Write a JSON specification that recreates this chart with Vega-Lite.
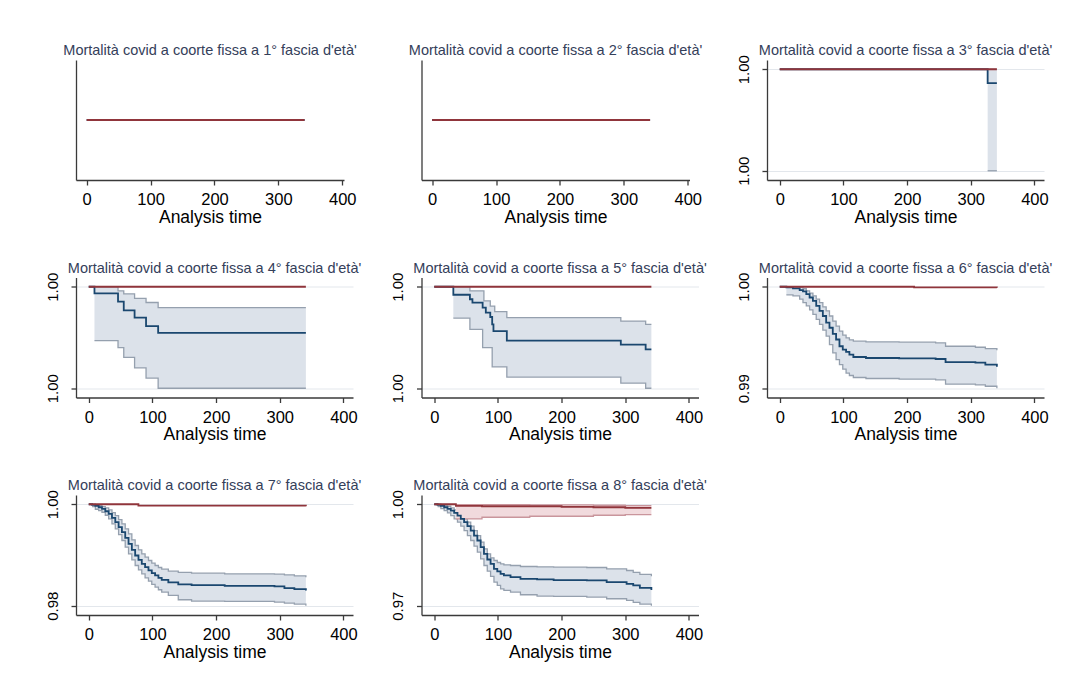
{
"$schema": "https://vega.github.io/schema/vega-lite/v6.json",
"background": "white",
"padding": {"left": 44, "top": 42, "right": 5, "bottom": 5},
"columns": 3,
"spacing": {"row": 97.5, "column": 68.5},
"bounds": "flush",
"data": {"values": [
{"p":1,"g":"b","t":0,"s":1},{"p":1,"g":"b","t":341,"s":1},{"p":1,"g":"r","t":0,"s":1},{"p":1,"g":"r","t":341,"s":1},
{"p":2,"g":"b","t":0,"s":1},{"p":2,"g":"b","t":341,"s":1},{"p":2,"g":"r","t":0,"s":1},{"p":2,"g":"r","t":341,"s":1},
{"p":3,"g":"b","t":0,"s":1},{"p":3,"g":"b","t":326.5,"s":0.999863,"hi":1,"lo":0.999},{"p":3,"g":"b","t":341,"s":0.999863,"hi":1,"lo":0.999},
{"p":3,"g":"r","t":0,"s":1},{"p":3,"g":"r","t":341,"s":1},
{"p":4,"g":"b","t":0,"s":1},
{"p":4,"g":"b","t":9,"s":0.999934,"hi":1,"lo":0.99947},
{"p":4,"g":"b","t":46,"s":0.999854,"hi":0.99996,"lo":0.9994},
{"p":4,"g":"b","t":55,"s":0.999768,"hi":0.99993,"lo":0.999305},
{"p":4,"g":"b","t":72,"s":0.999695,"hi":0.999885,"lo":0.9992},
{"p":4,"g":"b","t":90,"s":0.999613,"hi":0.999845,"lo":0.9991},
{"p":4,"g":"b","t":109,"s":0.999546,"hi":0.999795,"lo":0.999},
{"p":4,"g":"b","t":341,"s":0.999546,"hi":0.999795,"lo":0.999},
{"p":4,"g":"r","t":0,"s":1},{"p":4,"g":"r","t":341,"s":1},
{"p":5,"g":"b","t":0,"s":1},
{"p":5,"g":"b","t":30,"s":0.999921,"hi":1,"lo":0.99969},
{"p":5,"g":"b","t":56,"s":0.999877,"hi":0.99996,"lo":0.99958},
{"p":5,"g":"b","t":60,"s":0.999844,"hi":0.99996,"lo":0.99958},
{"p":5,"g":"b","t":76,"s":0.999795,"hi":0.99996,"lo":0.9994},
{"p":5,"g":"b","t":78,"s":0.999795,"hi":0.99986,"lo":0.9994},
{"p":5,"g":"b","t":81,"s":0.999745,"hi":0.99986,"lo":0.9994},
{"p":5,"g":"b","t":88,"s":0.999702,"hi":0.99981,"lo":0.9994},
{"p":5,"g":"b","t":91,"s":0.999629,"hi":0.99981,"lo":0.99921},
{"p":5,"g":"b","t":93,"s":0.999563,"hi":0.99981,"lo":0.99921},
{"p":5,"g":"b","t":95,"s":0.999563,"hi":0.999755,"lo":0.99921},
{"p":5,"g":"b","t":114,"s":0.99947,"hi":0.999695,"lo":0.99911},
{"p":5,"g":"b","t":293,"s":0.99943,"hi":0.999662,"lo":0.99905},
{"p":5,"g":"b","t":332,"s":0.999384,"hi":0.99963,"lo":0.999},
{"p":5,"g":"b","t":341,"s":0.999384,"hi":0.99963,"lo":0.999},
{"p":5,"g":"r","t":0,"s":1},{"p":5,"g":"r","t":341,"s":1},
{"p":6,"g":"b","t":0,"s":1},
{"p":6,"g":"b","t":10.4,"s":0.999934,"hi":1,"lo":0.999205},
{"p":6,"g":"b","t":20.8,"s":0.999834,"hi":1,"lo":0.999106},
{"p":6,"g":"b","t":31.3,"s":0.999669,"hi":0.999934,"lo":0.998775},
{"p":6,"g":"b","t":36.5,"s":0.999536,"hi":0.999801,"lo":0.998444},
{"p":6,"g":"b","t":41.7,"s":0.999272,"hi":0.999603,"lo":0.998113},
{"p":6,"g":"b","t":46.9,"s":0.99894,"hi":0.999371,"lo":0.997715},
{"p":6,"g":"b","t":52.1,"s":0.998609,"hi":0.999106,"lo":0.997285},
{"p":6,"g":"b","t":57.3,"s":0.998113,"hi":0.998775,"lo":0.996788},
{"p":6,"g":"b","t":62.5,"s":0.997616,"hi":0.998444,"lo":0.996291},
{"p":6,"g":"b","t":67.7,"s":0.997119,"hi":0.998013,"lo":0.995728},
{"p":6,"g":"b","t":72.9,"s":0.996457,"hi":0.997616,"lo":0.995133},
{"p":6,"g":"b","t":78.1,"s":0.995961,"hi":0.997119,"lo":0.994305},
{"p":6,"g":"b","t":83.3,"s":0.995364,"hi":0.996623,"lo":0.993477},
{"p":6,"g":"b","t":88.5,"s":0.994801,"hi":0.996126,"lo":0.992815},
{"p":6,"g":"b","t":93.8,"s":0.994139,"hi":0.995629,"lo":0.992318},
{"p":6,"g":"b","t":99,"s":0.993808,"hi":0.995232,"lo":0.991888},
{"p":6,"g":"b","t":104.2,"s":0.993577,"hi":0.994967,"lo":0.991491},
{"p":6,"g":"b","t":109.4,"s":0.993312,"hi":0.994768,"lo":0.991258},
{"p":6,"g":"b","t":115.6,"s":0.99308,"hi":0.994636,"lo":0.99106},
{"p":6,"g":"b","t":135.4,"s":0.992981,"hi":0.99457,"lo":0.990961},
{"p":6,"g":"b","t":187.5,"s":0.992948,"hi":0.994537,"lo":0.990894},
{"p":6,"g":"b","t":244.8,"s":0.992881,"hi":0.994471,"lo":0.990828},
{"p":6,"g":"b","t":260.4,"s":0.992583,"hi":0.99414,"lo":0.990398},
{"p":6,"g":"b","t":307.3,"s":0.992517,"hi":0.99404,"lo":0.990331},
{"p":6,"g":"b","t":322.9,"s":0.992318,"hi":0.993908,"lo":0.990199},
{"p":6,"g":"b","t":341,"s":0.99212,"hi":0.993742,"lo":0.99},
{"p":6,"g":"r","t":0,"s":1},{"p":6,"g":"r","t":211,"s":0.99994},{"p":6,"g":"r","t":341,"s":0.9999},
{"p":7,"g":"b","t":0,"s":1},
{"p":7,"g":"b","t":5.2,"s":0.999869,"hi":1,"lo":0.999541},
{"p":7,"g":"b","t":10.4,"s":0.999672,"hi":0.999869,"lo":0.999016},
{"p":7,"g":"b","t":15.6,"s":0.99941,"hi":0.999738,"lo":0.998754},
{"p":7,"g":"b","t":20.8,"s":0.999082,"hi":0.999541,"lo":0.998426},
{"p":7,"g":"b","t":26,"s":0.998623,"hi":0.999279,"lo":0.997836},
{"p":7,"g":"b","t":31.3,"s":0.998098,"hi":0.998885,"lo":0.997115},
{"p":7,"g":"b","t":36.5,"s":0.997312,"hi":0.998361,"lo":0.996131},
{"p":7,"g":"b","t":41.7,"s":0.996459,"hi":0.997771,"lo":0.995148},
{"p":7,"g":"b","t":46.9,"s":0.995476,"hi":0.996984,"lo":0.994033},
{"p":7,"g":"b","t":52.1,"s":0.994492,"hi":0.996131,"lo":0.992853},
{"p":7,"g":"b","t":57.3,"s":0.993377,"hi":0.995148,"lo":0.991541},
{"p":7,"g":"b","t":62.5,"s":0.992197,"hi":0.994164,"lo":0.99023},
{"p":7,"g":"b","t":67.7,"s":0.991017,"hi":0.992984,"lo":0.98905},
{"p":7,"g":"b","t":72.9,"s":0.989902,"hi":0.991869,"lo":0.987935},
{"p":7,"g":"b","t":78.1,"s":0.98905,"hi":0.991017,"lo":0.987083},
{"p":7,"g":"b","t":83.3,"s":0.988263,"hi":0.99023,"lo":0.986296},
{"p":7,"g":"b","t":88.5,"s":0.987607,"hi":0.989574,"lo":0.985509},
{"p":7,"g":"b","t":93.8,"s":0.986952,"hi":0.988919,"lo":0.984853},
{"p":7,"g":"b","t":99,"s":0.986427,"hi":0.988394,"lo":0.984198},
{"p":7,"g":"b","t":104.2,"s":0.985968,"hi":0.987935,"lo":0.983673},
{"p":7,"g":"b","t":109.4,"s":0.985509,"hi":0.987541,"lo":0.983149},
{"p":7,"g":"b","t":114.6,"s":0.985115,"hi":0.987214,"lo":0.982689},
{"p":7,"g":"b","t":125,"s":0.984591,"hi":0.98682,"lo":0.982034},
{"p":7,"g":"b","t":140.6,"s":0.984198,"hi":0.986558,"lo":0.981181},
{"p":7,"g":"b","t":161.5,"s":0.984067,"hi":0.986427,"lo":0.980919},
{"p":7,"g":"b","t":213.5,"s":0.983935,"hi":0.986296,"lo":0.980853},
{"p":7,"g":"b","t":291.7,"s":0.983804,"hi":0.98623,"lo":0.980722},
{"p":7,"g":"b","t":307.3,"s":0.983476,"hi":0.986099,"lo":0.980525},
{"p":7,"g":"b","t":322.9,"s":0.98328,"hi":0.985902,"lo":0.980328},
{"p":7,"g":"b","t":341,"s":0.983017,"hi":0.98564,"lo":0.98},
{"p":7,"g":"r","t":0,"s":1},{"p":7,"g":"r","t":78,"s":0.99974},{"p":7,"g":"r","t":341,"s":0.99961},
{"p":8,"g":"b","t":0,"s":1},
{"p":8,"g":"b","t":5.2,"s":0.999803,"hi":1,"lo":0.999311},
{"p":8,"g":"b","t":10.4,"s":0.999508,"hi":0.999902,"lo":0.998721},
{"p":8,"g":"b","t":15.6,"s":0.999115,"hi":0.999607,"lo":0.998131},
{"p":8,"g":"b","t":20.8,"s":0.998623,"hi":0.99941,"lo":0.997443},
{"p":8,"g":"b","t":26,"s":0.998131,"hi":0.998918,"lo":0.996656},
{"p":8,"g":"b","t":31.3,"s":0.997443,"hi":0.998328,"lo":0.995672},
{"p":8,"g":"b","t":36.5,"s":0.996656,"hi":0.997639,"lo":0.994689},
{"p":8,"g":"b","t":41.7,"s":0.995672,"hi":0.996656,"lo":0.993508},
{"p":8,"g":"b","t":46.9,"s":0.994689,"hi":0.995672,"lo":0.99223},
{"p":8,"g":"b","t":52.1,"s":0.993508,"hi":0.994689,"lo":0.990754},
{"p":8,"g":"b","t":57.3,"s":0.99223,"hi":0.993508,"lo":0.989279},
{"p":8,"g":"b","t":62.5,"s":0.990754,"hi":0.99223,"lo":0.987607},
{"p":8,"g":"b","t":67.7,"s":0.989279,"hi":0.990754,"lo":0.985836},
{"p":8,"g":"b","t":72.9,"s":0.987311,"hi":0.988787,"lo":0.983869},
{"p":8,"g":"b","t":78.1,"s":0.985344,"hi":0.98682,"lo":0.981902},
{"p":8,"g":"b","t":83.3,"s":0.983672,"hi":0.985344,"lo":0.980229},
{"p":8,"g":"b","t":88.5,"s":0.982393,"hi":0.984164,"lo":0.978656},
{"p":8,"g":"b","t":93.8,"s":0.980918,"hi":0.983377,"lo":0.976984},
{"p":8,"g":"b","t":99,"s":0.980131,"hi":0.982787,"lo":0.976},
{"p":8,"g":"b","t":104.2,"s":0.979443,"hi":0.982393,"lo":0.975016},
{"p":8,"g":"b","t":109.4,"s":0.978951,"hi":0.982098,"lo":0.974525},
{"p":8,"g":"b","t":119.8,"s":0.978459,"hi":0.981902,"lo":0.974033},
{"p":8,"g":"b","t":135.4,"s":0.977967,"hi":0.981607,"lo":0.973246},
{"p":8,"g":"b","t":161.5,"s":0.977771,"hi":0.981508,"lo":0.972852},
{"p":8,"g":"b","t":187.5,"s":0.977574,"hi":0.98141,"lo":0.972754},
{"p":8,"g":"b","t":239.6,"s":0.977475,"hi":0.981311,"lo":0.972557},
{"p":8,"g":"b","t":270.8,"s":0.976984,"hi":0.980918,"lo":0.972066},
{"p":8,"g":"b","t":302.1,"s":0.976492,"hi":0.980426,"lo":0.971574},
{"p":8,"g":"b","t":312.5,"s":0.976,"hi":0.979836,"lo":0.970984},
{"p":8,"g":"b","t":322.9,"s":0.975311,"hi":0.979246,"lo":0.970492},
{"p":8,"g":"b","t":341,"s":0.974623,"hi":0.978754,"lo":0.97},
{"p":8,"g":"r","t":0,"s":1},
{"p":8,"g":"r","t":34,"s":0.999508,"hi":0.999902,"lo":0.995672},
{"p":8,"g":"r","t":75,"s":0.99941,"hi":0.999902,"lo":0.996164},
{"p":8,"g":"r","t":150,"s":0.99941,"hi":0.999803,"lo":0.996459},
{"p":8,"g":"r","t":200,"s":0.999213,"hi":0.999803,"lo":0.996459},
{"p":8,"g":"r","t":250,"s":0.999115,"hi":0.99971,"lo":0.996754},
{"p":8,"g":"r","t":300,"s":0.998918,"hi":0.999607,"lo":0.996951},
{"p":8,"g":"r","t":341,"s":0.998918,"hi":0.999607,"lo":0.996951}
]},
"concat": [
{"width": 268, "height": 120, "title": {"text": "Mortalità covid a coorte fissa a 1° fascia d'età'", "offset": 2},
 "transform": [{"filter": "datum.p == 1"}],
 "encoding": {"x": {"field": "t", "type": "quantitative", "scale": {"domain": [-16.7, 402.7], "nice": false, "zero": false}, "axis": {"values": [0,100,200,300,400], "title": "Analysis time"}}},
 "layer": [
  {"transform": [{"filter": "datum.g == 'b'"}], "mark": {"type": "line", "color": "#1a476f", "strokeWidth": 1.8, "interpolate": "step-after"}, "encoding": {"y": {"field": "s", "type": "quantitative", "title": null, "scale": {"domain": [0, 2], "nice": false, "zero": false}, "axis": {"values": [], "ticks": false, "grid": false, "labels": false}}}},
  {"transform": [{"filter": "datum.g == 'r'"}], "mark": {"type": "line", "color": "#90353b", "strokeWidth": 1.8, "interpolate": "step-after"}, "encoding": {"y": {"field": "s", "type": "quantitative", "title": null}}}
 ]},
{"width": 268, "height": 120, "title": {"text": "Mortalità covid a coorte fissa a 2° fascia d'età'", "offset": 2},
 "transform": [{"filter": "datum.p == 2"}],
 "encoding": {"x": {"field": "t", "type": "quantitative", "scale": {"domain": [-16.7, 402.7], "nice": false, "zero": false}, "axis": {"values": [0,100,200,300,400], "title": "Analysis time"}}},
 "layer": [
  {"transform": [{"filter": "datum.g == 'b'"}], "mark": {"type": "line", "color": "#1a476f", "strokeWidth": 1.8, "interpolate": "step-after"}, "encoding": {"y": {"field": "s", "type": "quantitative", "title": null, "scale": {"domain": [0, 2], "nice": false, "zero": false}, "axis": {"values": [], "ticks": false, "grid": false, "labels": false}}}},
  {"transform": [{"filter": "datum.g == 'r'"}], "mark": {"type": "line", "color": "#90353b", "strokeWidth": 1.8, "interpolate": "step-after"}, "encoding": {"y": {"field": "s", "type": "quantitative", "title": null}}}
 ]},
{"width": 277, "height": 120, "title": {"text": "Mortalità covid a coorte fissa a 3° fascia d'età'", "offset": -4},
 "transform": [{"filter": "datum.p == 3"}],
 "encoding": {"x": {"field": "t", "type": "quantitative", "scale": {"domain": [-20, 415], "nice": false, "zero": false}, "axis": {"values": [0,100,200,300,400], "title": "Analysis time"}}},
 "layer": [
  {"transform": [{"filter": "datum.g == 'b' && isValid(datum.lo)"}], "mark": {"type": "area", "color": "#dce2ea", "interpolate": "step-after"}, "encoding": {"y": {"field": "lo", "type": "quantitative", "title": null, "scale": {"domain": [0.9989089, 1.0000911], "nice": false, "zero": false}, "axis": {"values": [0.999, 1], "format": ".2f"}}, "y2": {"field": "hi"}}},
  {"transform": [{"filter": "datum.g == 'b' && isValid(datum.lo)"}], "mark": {"type": "line", "color": "#95a0ae", "strokeWidth": 1.3, "interpolate": "step-after"}, "encoding": {"y": {"field": "lo", "type": "quantitative", "title": null}}},
  {"transform": [{"filter": "datum.g == 'b' && isValid(datum.lo)"}], "mark": {"type": "line", "color": "#95a0ae", "strokeWidth": 1.3, "interpolate": "step-after"}, "encoding": {"y": {"field": "hi", "type": "quantitative", "title": null}}},
  {"transform": [{"filter": "datum.g == 'b'"}], "mark": {"type": "line", "color": "#1a476f", "strokeWidth": 1.8, "interpolate": "step-after"}, "encoding": {"y": {"field": "s", "type": "quantitative", "title": null}}},
  {"transform": [{"filter": "datum.g == 'r'"}], "mark": {"type": "line", "color": "#90353b", "strokeWidth": 1.8, "interpolate": "step-after"}, "encoding": {"y": {"field": "s", "type": "quantitative", "title": null}}}
 ]},
{"width": 277, "height": 120, "title": {"text": "Mortalità covid a coorte fissa a 4° fascia d'età'", "offset": -4},
 "transform": [{"filter": "datum.p == 4"}],
 "encoding": {"x": {"field": "t", "type": "quantitative", "scale": {"domain": [-20, 415], "nice": false, "zero": false}, "axis": {"values": [0,100,200,300,400], "title": "Analysis time"}}},
 "layer": [
  {"transform": [{"filter": "datum.g == 'b' && isValid(datum.lo)"}], "mark": {"type": "area", "color": "#dce2ea", "interpolate": "step-after"}, "encoding": {"y": {"field": "lo", "type": "quantitative", "title": null, "scale": {"domain": [0.9989089, 1.0000911], "nice": false, "zero": false}, "axis": {"values": [0.999, 1], "format": ".2f"}}, "y2": {"field": "hi"}}},
  {"transform": [{"filter": "datum.g == 'b' && isValid(datum.lo)"}], "mark": {"type": "line", "color": "#95a0ae", "strokeWidth": 1.3, "interpolate": "step-after"}, "encoding": {"y": {"field": "lo", "type": "quantitative", "title": null}}},
  {"transform": [{"filter": "datum.g == 'b' && isValid(datum.lo)"}], "mark": {"type": "line", "color": "#95a0ae", "strokeWidth": 1.3, "interpolate": "step-after"}, "encoding": {"y": {"field": "hi", "type": "quantitative", "title": null}}},
  {"transform": [{"filter": "datum.g == 'b'"}], "mark": {"type": "line", "color": "#1a476f", "strokeWidth": 1.8, "interpolate": "step-after"}, "encoding": {"y": {"field": "s", "type": "quantitative", "title": null}}},
  {"transform": [{"filter": "datum.g == 'r'"}], "mark": {"type": "line", "color": "#90353b", "strokeWidth": 1.8, "interpolate": "step-after"}, "encoding": {"y": {"field": "s", "type": "quantitative", "title": null}}}
 ]},
{"width": 277, "height": 120, "title": {"text": "Mortalità covid a coorte fissa a 5° fascia d'età'", "offset": -4},
 "transform": [{"filter": "datum.p == 5"}],
 "encoding": {"x": {"field": "t", "type": "quantitative", "scale": {"domain": [-20, 415], "nice": false, "zero": false}, "axis": {"values": [0,100,200,300,400], "title": "Analysis time"}}},
 "layer": [
  {"transform": [{"filter": "datum.g == 'b' && isValid(datum.lo)"}], "mark": {"type": "area", "color": "#dce2ea", "interpolate": "step-after"}, "encoding": {"y": {"field": "lo", "type": "quantitative", "title": null, "scale": {"domain": [0.9989089, 1.0000911], "nice": false, "zero": false}, "axis": {"values": [0.999, 1], "format": ".2f"}}, "y2": {"field": "hi"}}},
  {"transform": [{"filter": "datum.g == 'b' && isValid(datum.lo)"}], "mark": {"type": "line", "color": "#95a0ae", "strokeWidth": 1.3, "interpolate": "step-after"}, "encoding": {"y": {"field": "lo", "type": "quantitative", "title": null}}},
  {"transform": [{"filter": "datum.g == 'b' && isValid(datum.lo)"}], "mark": {"type": "line", "color": "#95a0ae", "strokeWidth": 1.3, "interpolate": "step-after"}, "encoding": {"y": {"field": "hi", "type": "quantitative", "title": null}}},
  {"transform": [{"filter": "datum.g == 'b'"}], "mark": {"type": "line", "color": "#1a476f", "strokeWidth": 1.8, "interpolate": "step-after"}, "encoding": {"y": {"field": "s", "type": "quantitative", "title": null}}},
  {"transform": [{"filter": "datum.g == 'r'"}], "mark": {"type": "line", "color": "#90353b", "strokeWidth": 1.8, "interpolate": "step-after"}, "encoding": {"y": {"field": "s", "type": "quantitative", "title": null}}}
 ]},
{"width": 277, "height": 120, "title": {"text": "Mortalità covid a coorte fissa a 6° fascia d'età'", "offset": -4},
 "transform": [{"filter": "datum.p == 6"}],
 "encoding": {"x": {"field": "t", "type": "quantitative", "scale": {"domain": [-20, 415], "nice": false, "zero": false}, "axis": {"values": [0,100,200,300,400], "title": "Analysis time"}}},
 "layer": [
  {"transform": [{"filter": "datum.g == 'b' && isValid(datum.lo)"}], "mark": {"type": "area", "color": "#dce2ea", "interpolate": "step-after"}, "encoding": {"y": {"field": "lo", "type": "quantitative", "title": null, "scale": {"domain": [0.989089, 1.000911], "nice": false, "zero": false}, "axis": {"values": [0.99, 1], "format": ".2f"}}, "y2": {"field": "hi"}}},
  {"transform": [{"filter": "datum.g == 'b' && isValid(datum.lo)"}], "mark": {"type": "line", "color": "#95a0ae", "strokeWidth": 1.3, "interpolate": "step-after"}, "encoding": {"y": {"field": "lo", "type": "quantitative", "title": null}}},
  {"transform": [{"filter": "datum.g == 'b' && isValid(datum.lo)"}], "mark": {"type": "line", "color": "#95a0ae", "strokeWidth": 1.3, "interpolate": "step-after"}, "encoding": {"y": {"field": "hi", "type": "quantitative", "title": null}}},
  {"transform": [{"filter": "datum.g == 'b'"}], "mark": {"type": "line", "color": "#1a476f", "strokeWidth": 1.8, "interpolate": "step-after"}, "encoding": {"y": {"field": "s", "type": "quantitative", "title": null}}},
  {"transform": [{"filter": "datum.g == 'r'"}], "mark": {"type": "line", "color": "#90353b", "strokeWidth": 1.8, "interpolate": "step-after"}, "encoding": {"y": {"field": "s", "type": "quantitative", "title": null}}}
 ]},
{"width": 277, "height": 120, "title": {"text": "Mortalità covid a coorte fissa a 7° fascia d'età'", "offset": -4},
 "transform": [{"filter": "datum.p == 7"}],
 "encoding": {"x": {"field": "t", "type": "quantitative", "scale": {"domain": [-20, 415], "nice": false, "zero": false}, "axis": {"values": [0,100,200,300,400], "title": "Analysis time"}}},
 "layer": [
  {"transform": [{"filter": "datum.g == 'b' && isValid(datum.lo)"}], "mark": {"type": "area", "color": "#dce2ea", "interpolate": "step-after"}, "encoding": {"y": {"field": "lo", "type": "quantitative", "title": null, "scale": {"domain": [0.978178, 1.001822], "nice": false, "zero": false}, "axis": {"values": [0.98, 1], "format": ".2f"}}, "y2": {"field": "hi"}}},
  {"transform": [{"filter": "datum.g == 'b' && isValid(datum.lo)"}], "mark": {"type": "line", "color": "#95a0ae", "strokeWidth": 1.3, "interpolate": "step-after"}, "encoding": {"y": {"field": "lo", "type": "quantitative", "title": null}}},
  {"transform": [{"filter": "datum.g == 'b' && isValid(datum.lo)"}], "mark": {"type": "line", "color": "#95a0ae", "strokeWidth": 1.3, "interpolate": "step-after"}, "encoding": {"y": {"field": "hi", "type": "quantitative", "title": null}}},
  {"transform": [{"filter": "datum.g == 'b'"}], "mark": {"type": "line", "color": "#1a476f", "strokeWidth": 1.8, "interpolate": "step-after"}, "encoding": {"y": {"field": "s", "type": "quantitative", "title": null}}},
  {"transform": [{"filter": "datum.g == 'r'"}], "mark": {"type": "line", "color": "#90353b", "strokeWidth": 1.8, "interpolate": "step-after"}, "encoding": {"y": {"field": "s", "type": "quantitative", "title": null}}}
 ]},
{"width": 277, "height": 120, "title": {"text": "Mortalità covid a coorte fissa a 8° fascia d'età'", "offset": -4},
 "transform": [{"filter": "datum.p == 8"}],
 "encoding": {"x": {"field": "t", "type": "quantitative", "scale": {"domain": [-20, 415], "nice": false, "zero": false}, "axis": {"values": [0,100,200,300,400], "title": "Analysis time"}}},
 "layer": [
  {"transform": [{"filter": "datum.g == 'b' && isValid(datum.lo)"}], "mark": {"type": "area", "color": "#dce2ea", "interpolate": "step-after"}, "encoding": {"y": {"field": "lo", "type": "quantitative", "title": null, "scale": {"domain": [0.967267, 1.002733], "nice": false, "zero": false}, "axis": {"values": [0.97, 1], "format": ".2f"}}, "y2": {"field": "hi"}}},
  {"transform": [{"filter": "datum.g == 'b' && isValid(datum.lo)"}], "mark": {"type": "line", "color": "#95a0ae", "strokeWidth": 1.3, "interpolate": "step-after"}, "encoding": {"y": {"field": "lo", "type": "quantitative", "title": null}}},
  {"transform": [{"filter": "datum.g == 'b' && isValid(datum.lo)"}], "mark": {"type": "line", "color": "#95a0ae", "strokeWidth": 1.3, "interpolate": "step-after"}, "encoding": {"y": {"field": "hi", "type": "quantitative", "title": null}}},
  {"transform": [{"filter": "datum.g == 'r' && isValid(datum.lo)"}], "mark": {"type": "area", "color": "#f1dadd", "interpolate": "step-after"}, "encoding": {"y": {"field": "lo", "type": "quantitative", "title": null}, "y2": {"field": "hi"}}},
  {"transform": [{"filter": "datum.g == 'r' && isValid(datum.lo)"}], "mark": {"type": "line", "color": "#c9959c", "strokeWidth": 1.3, "interpolate": "step-after"}, "encoding": {"y": {"field": "lo", "type": "quantitative", "title": null}}},
  {"transform": [{"filter": "datum.g == 'r' && isValid(datum.lo)"}], "mark": {"type": "line", "color": "#c9959c", "strokeWidth": 1.3, "interpolate": "step-after"}, "encoding": {"y": {"field": "hi", "type": "quantitative", "title": null}}},
  {"transform": [{"filter": "datum.g == 'b'"}], "mark": {"type": "line", "color": "#1a476f", "strokeWidth": 1.8, "interpolate": "step-after"}, "encoding": {"y": {"field": "s", "type": "quantitative", "title": null}}},
  {"transform": [{"filter": "datum.g == 'r'"}], "mark": {"type": "line", "color": "#90353b", "strokeWidth": 1.8, "interpolate": "step-after"}, "encoding": {"y": {"field": "s", "type": "quantitative", "title": null}}}
 ]}
],
"config": {
 "view": {"stroke": null},
 "font": "Liberation Sans",
 "axis": {"domainColor": "#3a3a3a", "tickColor": "#3a3a3a", "labelColor": "#000000", "titleColor": "#000000", "labelFontSize": 16.5, "titleFontSize": 17.5, "titleFontWeight": "normal", "tickSize": 5, "gridColor": "#e3e7ec", "gridWidth": 1, "labelFont": "Liberation Sans", "titleFont": "Liberation Sans", "domainWidth": 1.3, "tickWidth": 1.3},
 "axisX": {"grid": false, "labelFlush": false, "labelOverlap": false, "labelPadding": 6.5, "titlePadding": 0},
 "axisY": {"grid": true, "labelAngle": 270, "labelAlign": "center", "labelBaseline": "bottom", "labelPadding": 11, "labelFontSize": 15, "labelOverlap": false},
 "title": {"fontSize": 14.5, "fontWeight": "normal", "color": "#34405a", "anchor": "middle", "frame": "group", "font": "Liberation Sans"}
}
}
